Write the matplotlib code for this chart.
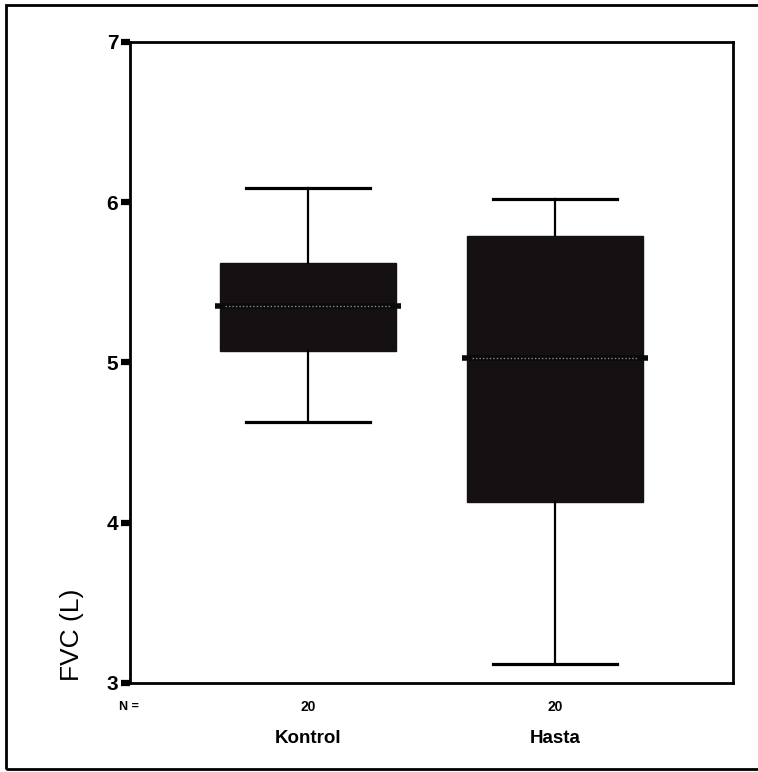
import numpy as np
import matplotlib.pyplot as plt
import matplotlib.patches as mpatches

plt.rcParams['font.family'] = ['Liberation Sans', 'DejaVu Sans']

# box plot summary values (FVC, litres)
groups = ['Kontrol', 'Hasta']
counts = [20, 20]
whisker_low = [4.63, 3.12]
q1 = [5.07, 4.13]
median = [5.35, 5.03]
q3 = [5.62, 5.79]
whisker_high = [6.09, 6.02]
yticks = [3, 4, 5, 6, 7]

fig = plt.figure(figsize=(7.58, 7.72), dpi=100)
ax = fig.add_axes([0.1715, 0.1153, 0.7955, 0.8303])

stats = []
for i, g in enumerate(groups):
    stats.append(dict(label=g, whislo=whisker_low[i], q1=q1[i], med=median[i],
                      q3=q3[i], whishi=whisker_high[i], fliers=[]))

pos = np.arange(1, len(groups) + 1)
bp = ax.bxp(stats, positions=pos, widths=0.71, patch_artist=True,
            showfliers=False,
            boxprops=dict(facecolor='#151012', edgecolor='#151012', lw=1),
            whiskerprops=dict(color='black', lw=1.6),
            capprops=dict(color='black', lw=2.3),
            medianprops=dict(color='#0a0a0a', lw=4))
# caps narrower than box
for c in bp['caps']:
    x = c.get_xdata()
    mid = x.mean()
    c.set_xdata([mid - 0.25, mid + 0.25])
# median line sticks out of the box a little, lighter dotted inside
for m in bp['medians']:
    x = m.get_xdata()
    m.set_xdata([x[0] - 0.02, x[1] + 0.02])
    ax.plot([x[0] + 0.02, x[1] - 0.02], m.get_ydata(), color='#8a8a8a',
            lw=1, ls=(0, (1, 1.5)), zorder=5)

ax.set_xlim(0.28, 2.72)
ax.set_ylim(3, 7)
ax.set_yticks(yticks)
ax.set_yticklabels([str(t) for t in yticks], fontsize=15, fontweight='bold')
ax.tick_params(axis='y', direction='out', length=6.5, width=4.5, pad=2)
ax.set_xticks([])
for s in ax.spines.values():
    s.set_linewidth(2)

ax.set_ylabel('FVC (L)', fontsize=19)
ax.yaxis.set_label_coords(-0.076, 0.075)

# N counts and group names below the axis
for p, n, g in zip(pos, counts, groups):
    ax.annotate(str(n), (p, 0), xycoords=('data', 'axes fraction'),
                xytext=(0, -17), textcoords='offset points',
                ha='center', va='center', fontsize=10, fontweight='bold')
    ax.annotate(g, (p, 0), xycoords=('data', 'axes fraction'),
                xytext=(0, -40), textcoords='offset points',
                ha='center', va='center', fontsize=13.5, fontweight='bold')
ax.annotate('N =', (0, 0), xycoords='axes fraction',
            xytext=(-1, -17), textcoords='offset points',
            ha='center', va='center', fontsize=9, fontweight='bold')

# outer frame
fig.patches.append(mpatches.Rectangle((0.008, 0.004), 1.1, 0.989,
                                      transform=fig.transFigure, fill=False,
                                      lw=2, ec='black'))

fig.savefig('out.png', dpi=100)
